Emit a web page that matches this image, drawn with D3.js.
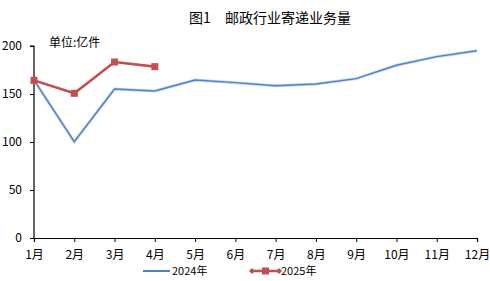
<!DOCTYPE html>
<html>
<head>
<meta charset="utf-8">
<script src="https://cdn.jsdelivr.net/npm/d3@7"></script>
<style>
  body { margin: 0; background: #fff; }
  svg text { font-family: "Noto Sans CJK SC", "DejaVu Sans", sans-serif; fill: #000; }
</style>
</head>
<body>
<svg id="chart" width="490" height="281"></svg>
<script>
// MARK: Data.

const months   = ['1月', '2月', '3月', '4月', '5月', '6月', '7月', '8月', '9月', '10月', '11月', '12月']
const values24 = [164.5, 100.3, 155.2, 153.1, 164.6, 161.8, 158.6, 160.4, 166.0, 179.9, 188.9, 195.1]
const values25 = [164.2, 150.7, 183.3, 178.5]
const yTicks   = [0, 50, 100, 150, 200]

const BLUE = '#4f83c8'
const RED  = '#c0504d'

const svg = d3.select('#chart')

const x = d3.scalePoint().domain(months).range([34, 477])
const y = d3.scaleLinear().domain([0, 200]).range([238, 46])

// Title and unit.
svg.append('text')
  .attr('x', 270).attr('y', 23)
  .attr('text-anchor', 'middle')
  .attr('font-size', 14)
  .text('图1\u3000邮政行业寄递业务量')

svg.append('text')
  .attr('x', 49).attr('y', 47)
  .attr('font-size', 12)
  .text('单位:亿件')

// Axes.
const yAxis = svg.append('g')
  .attr('transform', 'translate(34,0)')
  .call(d3.axisLeft(y).tickValues(yTicks).tickSize(4).tickPadding(8))
const xAxis = svg.append('g')
  .attr('transform', 'translate(0,238)')
  .call(d3.axisBottom(x).tickSize(4).tickPadding(8))

for (const g of [yAxis, xAxis]) {
  g.select('.domain').attr('stroke', '#000').attr('stroke-width', 1.2)
  g.selectAll('.tick line').attr('stroke', '#000')
  g.selectAll('.tick text')
    .attr('font-size', 12)
    .style('font-family', '"Noto Sans CJK SC", "DejaVu Sans", sans-serif')
}
yAxis.select('.domain').attr('d', 'M-4,46H0V238')

// Lines.
const line = d3.line()
  .x((d, i) => x(months[i]))
  .y((d) => y(d))

svg.append('path')
  .datum(values24)
  .attr('fill', 'none')
  .attr('stroke', '#c6d8f0')
  .attr('stroke-width', 3)
  .attr('d', line)
svg.append('path')
  .datum(values24)
  .attr('fill', 'none')
  .attr('stroke', BLUE)
  .attr('stroke-width', 1.4)
  .attr('d', line)

svg.append('path')
  .datum(values25)
  .attr('fill', 'none')
  .attr('stroke', RED)
  .attr('stroke-width', 2.6)
  .attr('d', line)

svg.selectAll('rect.m25')
  .data(values25).enter()
  .append('rect')
  .attr('class', 'm25')
  .attr('x', (d, i) => x(months[i]) - 3.5)
  .attr('y', (d) => y(d) - 3.5)
  .attr('width', 7).attr('height', 7)
  .attr('fill', RED)

// Legend.
const legend = svg.append('g').attr('transform', 'translate(0,271)')
legend.append('line')
  .attr('x1', 143).attr('x2', 170).attr('y1', 0).attr('y2', 0)
  .attr('stroke', BLUE).attr('stroke-width', 2)
legend.append('text')
  .attr('x', 172).attr('y', 4).attr('font-size', 11)
  .text('2024年')

legend.append('line')
  .attr('x1', 251).attr('x2', 280).attr('y1', 0).attr('y2', 0)
  .attr('stroke', RED).attr('stroke-width', 2.5)
legend.selectAll('path.dia')
  .data([252, 279]).enter()
  .append('path')
  .attr('d', (cx) => `M${cx - 3},0L${cx},-3L${cx + 3},0L${cx},3Z`)
  .attr('fill', RED)
legend.append('rect')
  .attr('x', 262).attr('y', -3.5).attr('width', 7).attr('height', 7)
  .attr('fill', RED)
legend.append('text')
  .attr('x', 281).attr('y', 4).attr('font-size', 11)
  .text('2025年')
</script>
</body>
</html>
